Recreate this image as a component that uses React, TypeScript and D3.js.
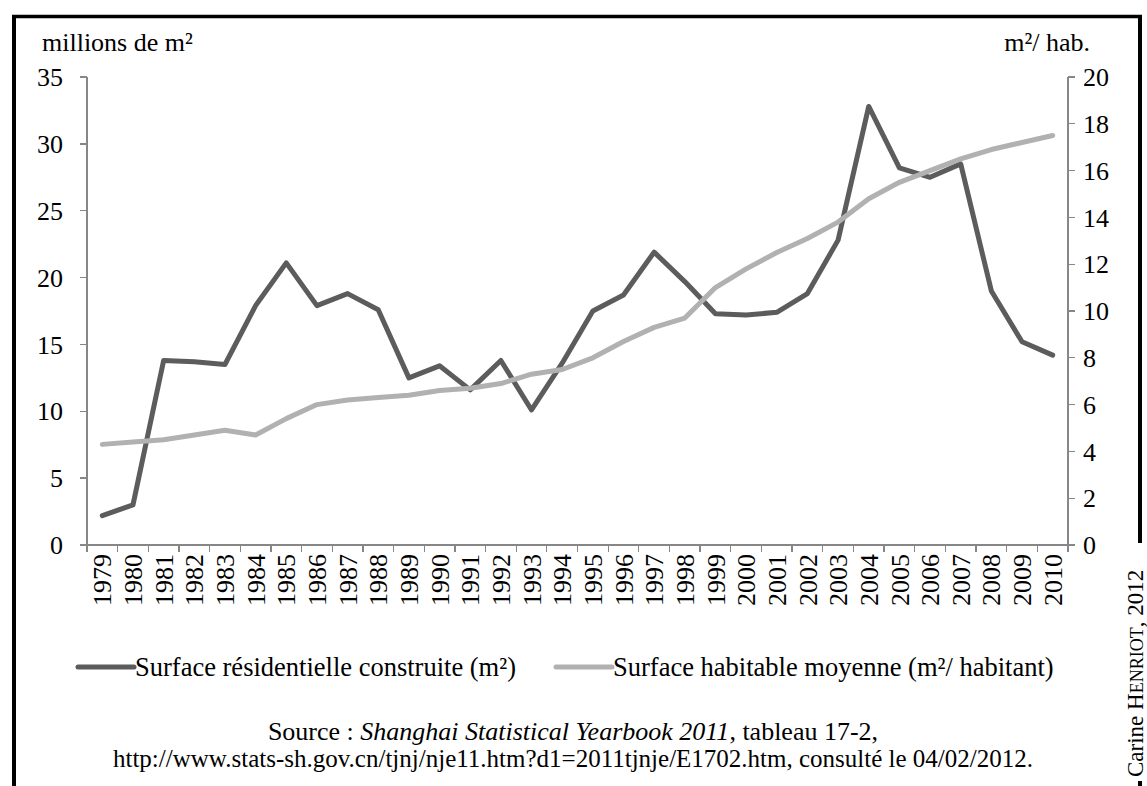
import { useEffect, useRef } from "react"
import * as d3 from "d3"

const years = [
  "1979", "1980", "1981", "1982", "1983", "1984", "1985", "1986", "1987", "1988",
  "1989", "1990", "1991", "1992", "1993", "1994", "1995", "1996", "1997", "1998",
  "1999", "2000", "2001", "2002", "2003", "2004", "2005", "2006", "2007", "2008",
  "2009", "2010",
]

// Surface résidentielle construite (millions de m²)
const surfaceConstruite = [
  2.2, 3.0, 13.8, 13.7, 13.5, 17.9, 21.1, 17.9, 18.8, 17.6,
  12.5, 13.4, 11.6, 13.8, 10.1, 13.6, 17.5, 18.7, 21.9, 19.7,
  17.3, 17.2, 17.4, 18.8, 22.8, 32.8, 28.2, 27.5, 28.5, 19.0,
  15.2, 14.2,
]

// Surface habitable moyenne (m²/ habitant)
const surfaceHabitable = [
  4.3, 4.4, 4.5, 4.7, 4.9, 4.7, 5.4, 6.0, 6.2, 6.3,
  6.4, 6.6, 6.7, 6.9, 7.3, 7.5, 8.0, 8.7, 9.3, 9.7,
  11.0, 11.8, 12.5, 13.1, 13.8, 14.8, 15.5, 16.0, 16.5, 16.9,
  17.2, 17.5,
]

const leftTicks = [0, 5, 10, 15, 20, 25, 30, 35]
const rightTicks = [0, 2, 4, 6, 8, 10, 12, 14, 16, 18, 20]

const W = 1147
const H = 786
const FONT = "'Liberation Serif', 'Times New Roman', serif"
const DARK = "#5c5c5c"
const LIGHT = "#b1b1b1"
const AXIS = "#878787"

export default function App() {
  const svgRef = useRef<SVGSVGElement>(null)

  useEffect(() => {
    if (!svgRef.current) return
    const svg = d3.select(svgRef.current)
    svg.selectAll("*").remove()

    const plot = { left: 87, right: 1068, top: 77, bottom: 545 }

    const x = d3.scaleBand().domain(years).range([plot.left, plot.right]).padding(0)
    const yL = d3.scaleLinear().domain([0, 35]).range([plot.bottom, plot.top])
    const yR = d3.scaleLinear().domain([0, 20]).range([plot.bottom, plot.top])
    const cx = (i: number) => (x(years[i]) ?? 0) + x.bandwidth() / 2

    svg.append("rect").attr("width", W).attr("height", H).attr("fill", "#fff")

    // frame
    const frame = svg.append("g").attr("stroke", "#000").attr("fill", "none")
    frame.append("line").attr("x1", 14).attr("x2", 14).attr("y1", 15).attr("y2", H).attr("stroke-width", 4)
    frame.append("line").attr("x1", 12).attr("x2", 1142).attr("y1", 16.5).attr("y2", 16.5).attr("stroke-width", 3.5)
    frame.append("line").attr("x1", 1140).attr("x2", 1140).attr("y1", 15).attr("y2", 543).attr("stroke-width", 4)
    frame.append("line").attr("x1", 1140).attr("x2", 1140).attr("y1", 781).attr("y2", H).attr("stroke-width", 4)

    // axes
    const axes = svg.append("g").attr("stroke", AXIS).attr("stroke-width", 1.3).attr("shape-rendering", "crispEdges")
    axes.append("line").attr("x1", plot.left).attr("x2", plot.left).attr("y1", plot.top).attr("y2", plot.bottom)
    axes.append("line").attr("x1", plot.right).attr("x2", plot.right).attr("y1", plot.top).attr("y2", plot.bottom)
    axes.append("line").attr("x1", plot.left - 7).attr("x2", plot.right + 7).attr("y1", plot.bottom).attr("y2", plot.bottom)

    leftTicks.forEach((t) => {
      axes.append("line").attr("x1", plot.left - 7).attr("x2", plot.left).attr("y1", yL(t)).attr("y2", yL(t))
    })
    rightTicks.forEach((t) => {
      axes.append("line").attr("x1", plot.right).attr("x2", plot.right + 7).attr("y1", yR(t)).attr("y2", yR(t))
    })
    years.forEach((yr) => {
      const bx = x(yr) ?? 0
      axes.append("line").attr("x1", bx).attr("x2", bx).attr("y1", plot.bottom).attr("y2", plot.bottom + 7)
    })
    axes.append("line").attr("x1", plot.right).attr("x2", plot.right).attr("y1", plot.bottom).attr("y2", plot.bottom + 7)

    const text = svg.append("g").attr("font-family", FONT).attr("font-size", 26).attr("fill", "#000")

    leftTicks.forEach((t) => {
      text.append("text").attr("x", 63).attr("y", yL(t)).attr("dy", "0.35em").attr("text-anchor", "end").text(t)
    })
    rightTicks.forEach((t) => {
      text.append("text").attr("x", 1083).attr("y", yR(t)).attr("dy", "0.35em").attr("text-anchor", "start").text(t)
    })
    years.forEach((yr, i) => {
      text.append("text")
        .attr("transform", `translate(${cx(i)},${plot.bottom + 9}) rotate(-90)`)
        .attr("dy", "0.35em")
        .attr("text-anchor", "end")
        .text(yr)
    })

    text.append("text").attr("x", 42).attr("y", 51).text("millions de m²")
    text.append("text").attr("x", 1090).attr("y", 51).attr("text-anchor", "end").text("m²/ hab.")

    // series
    const lineL = d3.line<number>().x((_, i) => cx(i)).y((d) => yL(d))
    const lineR = d3.line<number>().x((_, i) => cx(i)).y((d) => yR(d))

    svg.append("path")
      .datum(surfaceConstruite)
      .attr("d", lineL)
      .attr("fill", "none")
      .attr("stroke", DARK)
      .attr("stroke-width", 5)
      .attr("stroke-linejoin", "round")
      .attr("stroke-linecap", "round")

    svg.append("path")
      .datum(surfaceHabitable)
      .attr("d", lineR)
      .attr("fill", "none")
      .attr("stroke", LIGHT)
      .attr("stroke-width", 5)
      .attr("stroke-linejoin", "round")
      .attr("stroke-linecap", "round")

    // legend
    const legend = [
      { label: "Surface résidentielle construite (m²)", color: DARK, x0: 78 },
      { label: "Surface habitable moyenne (m²/ habitant)", color: LIGHT, x0: 556 },
    ]
    legend.forEach((l) => {
      svg.append("line")
        .attr("x1", l.x0).attr("x2", l.x0 + 56)
        .attr("y1", 667).attr("y2", 667)
        .attr("stroke", l.color).attr("stroke-width", 5).attr("stroke-linecap", "round")
      text.append("text").attr("x", l.x0 + 57).attr("y", 676).attr("font-size", 26.5).text(l.label)
    })

    // source
    const src = text.append("text").attr("x", 573).attr("y", 740).attr("text-anchor", "middle")
    src.append("tspan").text("Source : ")
    src.append("tspan").attr("font-style", "italic").text("Shanghai Statistical Yearbook 2011")
    src.append("tspan").text(", tableau 17-2,")
    text.append("text").attr("x", 573).attr("y", 767).attr("text-anchor", "middle").attr("font-size", 25)
      .text("http://www.stats-sh.gov.cn/tjnj/nje11.htm?d1=2011tjnje/E1702.htm, consulté le 04/02/2012.")

    // credit
    const credit = text.append("text")
      .attr("transform", "translate(1143,777) rotate(-90)")
      .attr("font-size", 23)
    credit.append("tspan").text("Carine H")
    credit.append("tspan").attr("font-size", 18).text("ENRIOT")
    credit.append("tspan").text(", 2012")
  }, [])

  return (
    <svg
      ref={svgRef}
      width={W}
      height={H}
      style={{ position: "absolute", left: 0, top: 0, display: "block" }}
    />
  )
}
